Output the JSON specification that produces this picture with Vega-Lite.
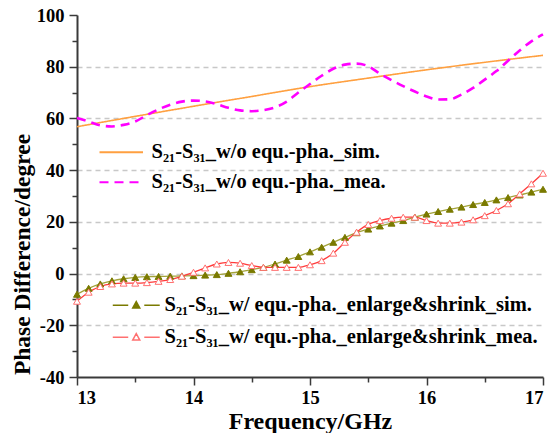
{
  "$schema": "https://vega.github.io/schema/vega-lite/v6.json",
  "width": 466,
  "height": 362,
  "autosize": {"type": "none"},
  "padding": {"left": 77, "top": 15, "right": 11, "bottom": 56},
  "background": "white",
  "config": {
    "view": {"stroke": null},
    "font": "Liberation Serif",
    "axis": {
      "labelFont": "Liberation Serif",
      "labelFontWeight": "bold",
      "labelFontSize": 18.5,
      "labelColor": "black",
      "titleFont": "Liberation Serif",
      "titleFontWeight": "bold",
      "titleColor": "black",
      "domainColor": "#3a3a3a",
      "domainWidth": 2,
      "tickColor": "#3a3a3a",
      "tickWidth": 1.5
    }
  },
  "datasets": {
    "top": [
      {"f": 13.0, "v": 56.8, "s": "S₂₁-S₃₁_w/o equ.-pha._sim."},
      {"f": 13.5, "v": 60.8, "s": "S₂₁-S₃₁_w/o equ.-pha._sim."},
      {"f": 14.0, "v": 64.7, "s": "S₂₁-S₃₁_w/o equ.-pha._sim."},
      {"f": 14.5, "v": 68.5, "s": "S₂₁-S₃₁_w/o equ.-pha._sim."},
      {"f": 15.0, "v": 72.3, "s": "S₂₁-S₃₁_w/o equ.-pha._sim."},
      {"f": 15.5, "v": 75.6, "s": "S₂₁-S₃₁_w/o equ.-pha._sim."},
      {"f": 16.0, "v": 78.8, "s": "S₂₁-S₃₁_w/o equ.-pha._sim."},
      {"f": 16.5, "v": 81.7, "s": "S₂₁-S₃₁_w/o equ.-pha._sim."},
      {"f": 17.0, "v": 84.4, "s": "S₂₁-S₃₁_w/o equ.-pha._sim."},
      {"f": 13.0, "v": 60.2, "s": "S₂₁-S₃₁_w/o equ.-pha._mea."},
      {"f": 13.1, "v": 58.8, "s": "S₂₁-S₃₁_w/o equ.-pha._mea."},
      {"f": 13.2, "v": 57.3, "s": "S₂₁-S₃₁_w/o equ.-pha._mea."},
      {"f": 13.3, "v": 56.9, "s": "S₂₁-S₃₁_w/o equ.-pha._mea."},
      {"f": 13.4, "v": 57.5, "s": "S₂₁-S₃₁_w/o equ.-pha._mea."},
      {"f": 13.5, "v": 58.8, "s": "S₂₁-S₃₁_w/o equ.-pha._mea."},
      {"f": 13.6, "v": 61.3, "s": "S₂₁-S₃₁_w/o equ.-pha._mea."},
      {"f": 13.7, "v": 63.5, "s": "S₂₁-S₃₁_w/o equ.-pha._mea."},
      {"f": 13.8, "v": 65.3, "s": "S₂₁-S₃₁_w/o equ.-pha._mea."},
      {"f": 13.9, "v": 66.5, "s": "S₂₁-S₃₁_w/o equ.-pha._mea."},
      {"f": 14.0, "v": 66.9, "s": "S₂₁-S₃₁_w/o equ.-pha._mea."},
      {"f": 14.1, "v": 66.6, "s": "S₂₁-S₃₁_w/o equ.-pha._mea."},
      {"f": 14.2, "v": 65.5, "s": "S₂₁-S₃₁_w/o equ.-pha._mea."},
      {"f": 14.3, "v": 64.1, "s": "S₂₁-S₃₁_w/o equ.-pha._mea."},
      {"f": 14.4, "v": 63.1, "s": "S₂₁-S₃₁_w/o equ.-pha._mea."},
      {"f": 14.5, "v": 62.8, "s": "S₂₁-S₃₁_w/o equ.-pha._mea."},
      {"f": 14.6, "v": 63.2, "s": "S₂₁-S₃₁_w/o equ.-pha._mea."},
      {"f": 14.7, "v": 64.3, "s": "S₂₁-S₃₁_w/o equ.-pha._mea."},
      {"f": 14.8, "v": 66.5, "s": "S₂₁-S₃₁_w/o equ.-pha._mea."},
      {"f": 14.9, "v": 70.0, "s": "S₂₁-S₃₁_w/o equ.-pha._mea."},
      {"f": 15.0, "v": 73.3, "s": "S₂₁-S₃₁_w/o equ.-pha._mea."},
      {"f": 15.1, "v": 76.5, "s": "S₂₁-S₃₁_w/o equ.-pha._mea."},
      {"f": 15.2, "v": 79.2, "s": "S₂₁-S₃₁_w/o equ.-pha._mea."},
      {"f": 15.3, "v": 80.8, "s": "S₂₁-S₃₁_w/o equ.-pha._mea."},
      {"f": 15.4, "v": 81.2, "s": "S₂₁-S₃₁_w/o equ.-pha._mea."},
      {"f": 15.5, "v": 80.2, "s": "S₂₁-S₃₁_w/o equ.-pha._mea."},
      {"f": 15.6, "v": 77.3, "s": "S₂₁-S₃₁_w/o equ.-pha._mea."},
      {"f": 15.7, "v": 74.8, "s": "S₂₁-S₃₁_w/o equ.-pha._mea."},
      {"f": 15.8, "v": 72.5, "s": "S₂₁-S₃₁_w/o equ.-pha._mea."},
      {"f": 15.9, "v": 70.4, "s": "S₂₁-S₃₁_w/o equ.-pha._mea."},
      {"f": 16.0, "v": 68.5, "s": "S₂₁-S₃₁_w/o equ.-pha._mea."},
      {"f": 16.1, "v": 67.3, "s": "S₂₁-S₃₁_w/o equ.-pha._mea."},
      {"f": 16.2, "v": 67.4, "s": "S₂₁-S₃₁_w/o equ.-pha._mea."},
      {"f": 16.3, "v": 69.2, "s": "S₂₁-S₃₁_w/o equ.-pha._mea."},
      {"f": 16.4, "v": 71.8, "s": "S₂₁-S₃₁_w/o equ.-pha._mea."},
      {"f": 16.5, "v": 75.0, "s": "S₂₁-S₃₁_w/o equ.-pha._mea."},
      {"f": 16.6, "v": 78.3, "s": "S₂₁-S₃₁_w/o equ.-pha._mea."},
      {"f": 16.7, "v": 82.3, "s": "S₂₁-S₃₁_w/o equ.-pha._mea."},
      {"f": 16.8, "v": 86.3, "s": "S₂₁-S₃₁_w/o equ.-pha._mea."},
      {"f": 16.9, "v": 89.8, "s": "S₂₁-S₃₁_w/o equ.-pha._mea."},
      {"f": 17.0, "v": 92.5, "s": "S₂₁-S₃₁_w/o equ.-pha._mea."}
    ],
    "bot": [
      {"f": 13.0, "v": -8.0, "s": "S₂₁-S₃₁_w/ equ.-pha._enlarge&shrink_sim."},
      {"f": 13.1, "v": -5.7, "s": "S₂₁-S₃₁_w/ equ.-pha._enlarge&shrink_sim."},
      {"f": 13.2, "v": -4.0, "s": "S₂₁-S₃₁_w/ equ.-pha._enlarge&shrink_sim."},
      {"f": 13.3, "v": -2.8, "s": "S₂₁-S₃₁_w/ equ.-pha._enlarge&shrink_sim."},
      {"f": 13.4, "v": -2.0, "s": "S₂₁-S₃₁_w/ equ.-pha._enlarge&shrink_sim."},
      {"f": 13.5, "v": -1.5, "s": "S₂₁-S₃₁_w/ equ.-pha._enlarge&shrink_sim."},
      {"f": 13.6, "v": -1.2, "s": "S₂₁-S₃₁_w/ equ.-pha._enlarge&shrink_sim."},
      {"f": 13.7, "v": -1.1, "s": "S₂₁-S₃₁_w/ equ.-pha._enlarge&shrink_sim."},
      {"f": 13.8, "v": -1.0, "s": "S₂₁-S₃₁_w/ equ.-pha._enlarge&shrink_sim."},
      {"f": 13.9, "v": -0.9, "s": "S₂₁-S₃₁_w/ equ.-pha._enlarge&shrink_sim."},
      {"f": 14.0, "v": -0.8, "s": "S₂₁-S₃₁_w/ equ.-pha._enlarge&shrink_sim."},
      {"f": 14.1, "v": -0.6, "s": "S₂₁-S₃₁_w/ equ.-pha._enlarge&shrink_sim."},
      {"f": 14.2, "v": -0.4, "s": "S₂₁-S₃₁_w/ equ.-pha._enlarge&shrink_sim."},
      {"f": 14.3, "v": 0.1, "s": "S₂₁-S₃₁_w/ equ.-pha._enlarge&shrink_sim."},
      {"f": 14.4, "v": 0.7, "s": "S₂₁-S₃₁_w/ equ.-pha._enlarge&shrink_sim."},
      {"f": 14.5, "v": 1.5, "s": "S₂₁-S₃₁_w/ equ.-pha._enlarge&shrink_sim."},
      {"f": 14.6, "v": 2.4, "s": "S₂₁-S₃₁_w/ equ.-pha._enlarge&shrink_sim."},
      {"f": 14.7, "v": 3.7, "s": "S₂₁-S₃₁_w/ equ.-pha._enlarge&shrink_sim."},
      {"f": 14.8, "v": 5.2, "s": "S₂₁-S₃₁_w/ equ.-pha._enlarge&shrink_sim."},
      {"f": 14.9, "v": 6.6, "s": "S₂₁-S₃₁_w/ equ.-pha._enlarge&shrink_sim."},
      {"f": 15.0, "v": 8.4, "s": "S₂₁-S₃₁_w/ equ.-pha._enlarge&shrink_sim."},
      {"f": 15.1, "v": 10.2, "s": "S₂₁-S₃₁_w/ equ.-pha._enlarge&shrink_sim."},
      {"f": 15.2, "v": 12.1, "s": "S₂₁-S₃₁_w/ equ.-pha._enlarge&shrink_sim."},
      {"f": 15.3, "v": 14.0, "s": "S₂₁-S₃₁_w/ equ.-pha._enlarge&shrink_sim."},
      {"f": 15.4, "v": 15.8, "s": "S₂₁-S₃₁_w/ equ.-pha._enlarge&shrink_sim."},
      {"f": 15.5, "v": 17.2, "s": "S₂₁-S₃₁_w/ equ.-pha._enlarge&shrink_sim."},
      {"f": 15.6, "v": 18.4, "s": "S₂₁-S₃₁_w/ equ.-pha._enlarge&shrink_sim."},
      {"f": 15.7, "v": 19.5, "s": "S₂₁-S₃₁_w/ equ.-pha._enlarge&shrink_sim."},
      {"f": 15.8, "v": 20.5, "s": "S₂₁-S₃₁_w/ equ.-pha._enlarge&shrink_sim."},
      {"f": 15.9, "v": 21.8, "s": "S₂₁-S₃₁_w/ equ.-pha._enlarge&shrink_sim."},
      {"f": 16.0, "v": 23.0, "s": "S₂₁-S₃₁_w/ equ.-pha._enlarge&shrink_sim."},
      {"f": 16.1, "v": 24.0, "s": "S₂₁-S₃₁_w/ equ.-pha._enlarge&shrink_sim."},
      {"f": 16.2, "v": 24.9, "s": "S₂₁-S₃₁_w/ equ.-pha._enlarge&shrink_sim."},
      {"f": 16.3, "v": 25.7, "s": "S₂₁-S₃₁_w/ equ.-pha._enlarge&shrink_sim."},
      {"f": 16.4, "v": 26.7, "s": "S₂₁-S₃₁_w/ equ.-pha._enlarge&shrink_sim."},
      {"f": 16.5, "v": 27.5, "s": "S₂₁-S₃₁_w/ equ.-pha._enlarge&shrink_sim."},
      {"f": 16.6, "v": 28.5, "s": "S₂₁-S₃₁_w/ equ.-pha._enlarge&shrink_sim."},
      {"f": 16.7, "v": 29.4, "s": "S₂₁-S₃₁_w/ equ.-pha._enlarge&shrink_sim."},
      {"f": 16.8, "v": 30.4, "s": "S₂₁-S₃₁_w/ equ.-pha._enlarge&shrink_sim."},
      {"f": 16.9, "v": 31.5, "s": "S₂₁-S₃₁_w/ equ.-pha._enlarge&shrink_sim."},
      {"f": 17.0, "v": 32.6, "s": "S₂₁-S₃₁_w/ equ.-pha._enlarge&shrink_sim."},
      {"f": 13.0, "v": -10.7, "s": "S₂₁-S₃₁_w/ equ.-pha._enlarge&shrink_mea."},
      {"f": 13.1, "v": -7.2, "s": "S₂₁-S₃₁_w/ equ.-pha._enlarge&shrink_mea."},
      {"f": 13.2, "v": -5.0, "s": "S₂₁-S₃₁_w/ equ.-pha._enlarge&shrink_mea."},
      {"f": 13.3, "v": -4.0, "s": "S₂₁-S₃₁_w/ equ.-pha._enlarge&shrink_mea."},
      {"f": 13.4, "v": -3.7, "s": "S₂₁-S₃₁_w/ equ.-pha._enlarge&shrink_mea."},
      {"f": 13.5, "v": -3.7, "s": "S₂₁-S₃₁_w/ equ.-pha._enlarge&shrink_mea."},
      {"f": 13.6, "v": -3.5, "s": "S₂₁-S₃₁_w/ equ.-pha._enlarge&shrink_mea."},
      {"f": 13.7, "v": -3.0, "s": "S₂₁-S₃₁_w/ equ.-pha._enlarge&shrink_mea."},
      {"f": 13.8, "v": -2.3, "s": "S₂₁-S₃₁_w/ equ.-pha._enlarge&shrink_mea."},
      {"f": 13.9, "v": -1.0, "s": "S₂₁-S₃₁_w/ equ.-pha._enlarge&shrink_mea."},
      {"f": 14.0, "v": 0.5, "s": "S₂₁-S₃₁_w/ equ.-pha._enlarge&shrink_mea."},
      {"f": 14.1, "v": 2.2, "s": "S₂₁-S₃₁_w/ equ.-pha._enlarge&shrink_mea."},
      {"f": 14.2, "v": 3.7, "s": "S₂₁-S₃₁_w/ equ.-pha._enlarge&shrink_mea."},
      {"f": 14.3, "v": 4.3, "s": "S₂₁-S₃₁_w/ equ.-pha._enlarge&shrink_mea."},
      {"f": 14.4, "v": 4.0, "s": "S₂₁-S₃₁_w/ equ.-pha._enlarge&shrink_mea."},
      {"f": 14.5, "v": 3.1, "s": "S₂₁-S₃₁_w/ equ.-pha._enlarge&shrink_mea."},
      {"f": 14.6, "v": 2.4, "s": "S₂₁-S₃₁_w/ equ.-pha._enlarge&shrink_mea."},
      {"f": 14.7, "v": 2.4, "s": "S₂₁-S₃₁_w/ equ.-pha._enlarge&shrink_mea."},
      {"f": 14.8, "v": 2.4, "s": "S₂₁-S₃₁_w/ equ.-pha._enlarge&shrink_mea."},
      {"f": 14.9, "v": 2.4, "s": "S₂₁-S₃₁_w/ equ.-pha._enlarge&shrink_mea."},
      {"f": 15.0, "v": 3.4, "s": "S₂₁-S₃₁_w/ equ.-pha._enlarge&shrink_mea."},
      {"f": 15.1, "v": 5.0, "s": "S₂₁-S₃₁_w/ equ.-pha._enlarge&shrink_mea."},
      {"f": 15.2, "v": 7.9, "s": "S₂₁-S₃₁_w/ equ.-pha._enlarge&shrink_mea."},
      {"f": 15.3, "v": 12.1, "s": "S₂₁-S₃₁_w/ equ.-pha._enlarge&shrink_mea."},
      {"f": 15.4, "v": 16.0, "s": "S₂₁-S₃₁_w/ equ.-pha._enlarge&shrink_mea."},
      {"f": 15.5, "v": 19.0, "s": "S₂₁-S₃₁_w/ equ.-pha._enlarge&shrink_mea."},
      {"f": 15.6, "v": 20.5, "s": "S₂₁-S₃₁_w/ equ.-pha._enlarge&shrink_mea."},
      {"f": 15.7, "v": 21.4, "s": "S₂₁-S₃₁_w/ equ.-pha._enlarge&shrink_mea."},
      {"f": 15.8, "v": 21.8, "s": "S₂₁-S₃₁_w/ equ.-pha._enlarge&shrink_mea."},
      {"f": 15.9, "v": 21.8, "s": "S₂₁-S₃₁_w/ equ.-pha._enlarge&shrink_mea."},
      {"f": 16.0, "v": 20.5, "s": "S₂₁-S₃₁_w/ equ.-pha._enlarge&shrink_mea."},
      {"f": 16.1, "v": 19.5, "s": "S₂₁-S₃₁_w/ equ.-pha._enlarge&shrink_mea."},
      {"f": 16.2, "v": 19.5, "s": "S₂₁-S₃₁_w/ equ.-pha._enlarge&shrink_mea."},
      {"f": 16.3, "v": 19.9, "s": "S₂₁-S₃₁_w/ equ.-pha._enlarge&shrink_mea."},
      {"f": 16.4, "v": 20.8, "s": "S₂₁-S₃₁_w/ equ.-pha._enlarge&shrink_mea."},
      {"f": 16.5, "v": 22.4, "s": "S₂₁-S₃₁_w/ equ.-pha._enlarge&shrink_mea."},
      {"f": 16.6, "v": 24.4, "s": "S₂₁-S₃₁_w/ equ.-pha._enlarge&shrink_mea."},
      {"f": 16.7, "v": 27.0, "s": "S₂₁-S₃₁_w/ equ.-pha._enlarge&shrink_mea."},
      {"f": 16.8, "v": 30.8, "s": "S₂₁-S₃₁_w/ equ.-pha._enlarge&shrink_mea."},
      {"f": 16.9, "v": 34.7, "s": "S₂₁-S₃₁_w/ equ.-pha._enlarge&shrink_mea."},
      {"f": 17.0, "v": 38.8, "s": "S₂₁-S₃₁_w/ equ.-pha._enlarge&shrink_mea."}
    ]
  },
  "encoding": {
    "x": {
      "field": "f", "type": "quantitative",
      "scale": {"domain": [13, 17], "nice": false, "zero": false},
      "axis": {
        "title": "Frequency/GHz",
        "titleFont": "Liberation Serif",
        "titleFontSize": 24,
        "titleY": 51,
        "titleBaseline": "alphabetic",
        "values": [13, 13.5, 14, 14.5, 15, 15.5, 16, 16.5, 17],
        "labelExpr": "datum.value % 1 === 0 ? '' + datum.value : ''",
        "labelFont": "Liberation Serif",
        "labelFontWeight": "bold",
        "labelFontSize": 18.5,
        "tickSize": {"condition": {"test": "datum.value % 1 !== 0", "value": 5}, "value": 8},
        "labelPadding": 3,
        "grid": false
      }
    },
    "y": {
      "field": "v", "type": "quantitative",
      "scale": {"domain": [-40, 100], "nice": false, "zero": false},
      "axis": {
        "title": "Phase Difference/degree",
        "titleFont": "Liberation Serif",
        "titleFontSize": 23.5,
        "titleX": -55,
        "titleY": 239,
        "titleAngle": 270,
        "titleAlign": "center",
        "titleBaseline": "middle",
        "values": [-40, -30, -20, -10, 0, 10, 20, 30, 40, 50, 60, 70, 80, 90, 100],
        "labelExpr": "datum.value % 20 === 0 ? '' + datum.value : ''",
        "labelFont": "Liberation Serif",
        "labelFontWeight": "bold",
        "labelFontSize": 18.5,
        "tickSize": {"condition": {"test": "datum.value % 20 !== 0", "value": 5}, "value": 8},
        "labelPadding": 5,
        "grid": true,
        "gridColor": "#c8c8c8",
        "gridDash": [5, 4],
        "gridWidth": 1.3,
        "gridOpacity": {"condition": {"test": "datum.value % 20 === 0 && datum.value > -40 && datum.value < 100", "value": 1}, "value": 0}
      }
    }
  },
  "layer": [
    {
      "data": {"name": "top"},
      "transform": [{"filter": "datum.s === 'S₂₁-S₃₁_w/o equ.-pha._sim.'"}],
      "mark": {"type": "line", "strokeWidth": 1.6, "interpolate": "monotone"},
      "encoding": {
        "color": {
          "field": "s", "type": "nominal",
          "scale": {"domain": ["S₂₁-S₃₁_w/o equ.-pha._sim.", "S₂₁-S₃₁_w/o equ.-pha._mea."], "range": ["#FFA040", "#FF00FF"]},
          "legend": {"orient": "none", "legendX": 34, "legendY": 127, "title": null, "padding": 0, "symbolType": "M-2.9,0H2.9", "symbolSize": 225, "symbolStrokeWidth": 2, "labelOffset": 20, "rowPadding": 9, "labelFont": "Liberation Serif", "labelFontWeight": "bold", "labelFontSize": 20.5, "labelColor": "black", "labelLimit": 600}
        },
        "strokeDash": {
          "field": "s", "type": "nominal",
          "scale": {"domain": ["S₂₁-S₃₁_w/o equ.-pha._sim.", "S₂₁-S₃₁_w/o equ.-pha._mea."], "range": [[1, 0], [9, 6]]},
          "legend": {"orient": "none", "legendX": 34, "legendY": 127, "title": null, "padding": 0, "symbolType": "M-2.9,0H2.9", "symbolSize": 225, "symbolStrokeWidth": 2, "labelOffset": 20, "rowPadding": 9, "labelFont": "Liberation Serif", "labelFontWeight": "bold", "labelFontSize": 20.5, "labelColor": "black", "labelLimit": 600}
        }
      }
    },
    {
      "data": {"name": "top"},
      "transform": [{"filter": "datum.s === 'S₂₁-S₃₁_w/o equ.-pha._mea.'"}],
      "mark": {"type": "line", "strokeWidth": 2.6, "interpolate": "monotone"},
      "encoding": {
        "color": {"field": "s", "type": "nominal"},
        "strokeDash": {"field": "s", "type": "nominal"}
      }
    },
    {
      "data": {"name": "bot"},
      "transform": [{"filter": "datum.s === 'S₂₁-S₃₁_w/ equ.-pha._enlarge&shrink_sim.'"}],
      "mark": {"type": "line", "strokeWidth": 1.3, "color": "#A3A33A", "interpolate": "monotone"},
      "encoding": {}
    },
    {
      "data": {"name": "bot"},
      "transform": [{"filter": "datum.s === 'S₂₁-S₃₁_w/ equ.-pha._enlarge&shrink_mea.'"}],
      "mark": {"type": "line", "strokeWidth": 1.3, "color": "#FF3B3B", "interpolate": "monotone"},
      "encoding": {}
    },
    {
      "data": {"name": "bot"},
      "mark": {"type": "point", "shape": "triangle-up", "size": 48, "filled": true, "strokeWidth": 1, "opacity": 1},
      "encoding": {
        "stroke": {
          "field": "s", "type": "nominal",
          "scale": {"domain": ["S₂₁-S₃₁_w/ equ.-pha._enlarge&shrink_sim.", "S₂₁-S₃₁_w/ equ.-pha._enlarge&shrink_mea."], "range": ["#7A7A00", "#FF7070"]},
          "legend": {"orient": "none", "legendX": 49, "legendY": 280, "title": null, "padding": 0, "symbolType": "M-3.13,0H-1.07M1.07,0H3.13M0,-0.5L0.47,0.38L-0.47,0.38Z", "symbolSize": 225, "symbolStrokeWidth": 1.5, "labelOffset": 18, "rowPadding": 11, "labelFont": "Liberation Serif", "labelFontWeight": "bold", "labelFontSize": 20.5, "labelColor": "black", "labelLimit": 600}
        },
        "fill": {
          "field": "s", "type": "nominal",
          "scale": {"domain": ["S₂₁-S₃₁_w/ equ.-pha._enlarge&shrink_sim.", "S₂₁-S₃₁_w/ equ.-pha._enlarge&shrink_mea."], "range": ["#7A7A00", "#FFFFFF"]},
          "legend": {"orient": "none", "legendX": 49, "legendY": 280, "title": null, "padding": 0, "symbolType": "M-3.13,0H-1.07M1.07,0H3.13M0,-0.5L0.47,0.38L-0.47,0.38Z", "symbolSize": 225, "symbolStrokeWidth": 1.5, "labelOffset": 18, "rowPadding": 11, "labelFont": "Liberation Serif", "labelFontWeight": "bold", "labelFontSize": 20.5, "labelColor": "black", "labelLimit": 600}
        }
      }
    }
  ]
}
